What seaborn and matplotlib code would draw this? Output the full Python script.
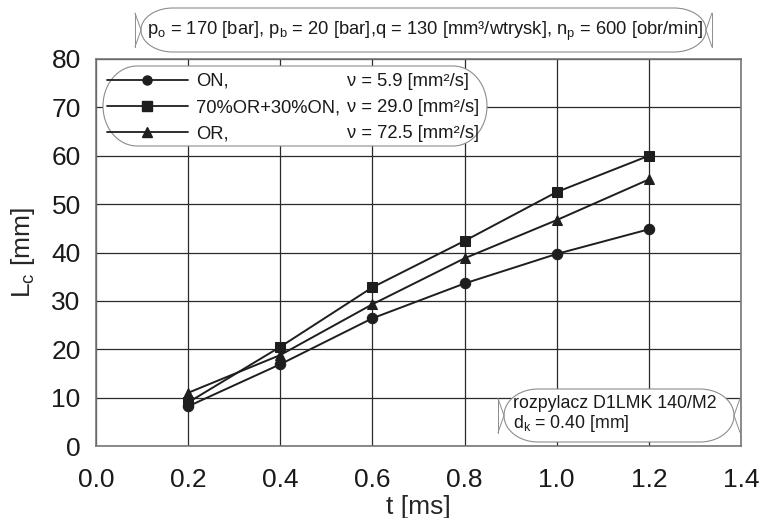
import numpy as np
import pandas as pd
import matplotlib.pyplot as plt
import seaborn as sns
from matplotlib.lines import Line2D
from matplotlib.patches import Polygon

# Data: spray tip penetration Lc [mm] vs time t [ms]
t_ms = [0.2, 0.4, 0.6, 0.8, 1.0, 1.2]
lc_on = [8.2, 16.9, 26.4, 33.6, 39.7, 44.8]
lc_mix = [9.0, 20.5, 32.8, 42.4, 52.5, 60.0]
lc_or = [11.0, 18.8, 29.3, 38.8, 46.7, 55.1]

fuels = ["ON,", "70%OR+30%ON,", "OR,"]
viscosity = ["5.9", "29.0", "72.5"]
x_ticks = [0.0, 0.2, 0.4, 0.6, 0.8, 1.0, 1.2, 1.4]
y_ticks = [0, 10, 20, 30, 40, 50, 60, 70, 80]

# long format for seaborn
df = pd.DataFrame({
    "t": t_ms * 3,
    "Lc": lc_on + lc_mix + lc_or,
    "fuel": [f for f in fuels for _ in t_ms],
})

sns.set_style("white")
plt.rcParams["font.family"] = ["Liberation Sans", "DejaVu Sans"]
plt.rcParams["mathtext.fontset"] = "custom"
plt.rcParams["mathtext.rm"] = "Liberation Sans"
plt.rcParams["mathtext.it"] = "Liberation Sans:italic"

W, H = 767, 518
fig = plt.figure(figsize=(W / 100, H / 100), dpi=100)
ax = fig.add_axes([96 / W, 1 - 446 / H, 645 / W, 387 / H])

ink = "#1e1e1e"
txt = "#1a1a1a"
edge = "#8c8c8c"
markers = {"ON,": "o", "70%OR+30%ON,": "s", "OR,": "^"}
for fuel in fuels:
    sns.lineplot(
        data=df[df["fuel"] == fuel], x="t", y="Lc", ax=ax,
        color=ink, marker=markers[fuel], markersize=7.5,
        markeredgecolor=ink, linewidth=1.4, legend=False,
    )

ax.set_xlim(0, 1.4)
ax.set_ylim(0, 80)
ax.set_xticks(x_ticks)
ax.set_yticks(y_ticks)
ax.set_xticklabels(["%.1f" % v for v in x_ticks])
ax.tick_params(axis="both", length=0, labelsize=19, colors=txt)
ax.tick_params(axis="x", pad=16)
ax.tick_params(axis="y", pad=11)
ax.grid(True, color="#2a2a2a", linewidth=0.9)
for s in ax.spines.values():
    s.set_color("#777777")
    s.set_linewidth(1.2)

ax.set_xlabel("t [ms]", fontsize=19, labelpad=2)
ax.set_ylabel("L$_\\mathrm{c}$ [mm]", fontsize=19, labelpad=10)


def px(x, y):
    # pixel (top-left origin) -> figure fraction
    return x / W, 1 - y / H


def stadium(x0, y0, x1, y1, rx, brackets=False, z=4):
    # box with elliptical ends, given in pixels
    ym = (y0 + y1) / 2
    ry = (y1 - y0) / 2
    th = np.linspace(-np.pi / 2, np.pi / 2, 40)
    right = [px(x1 - rx + rx * np.cos(a), ym - ry * np.sin(a)) for a in th[::-1]]
    left = [px(x0 + rx - rx * np.cos(a), ym + ry * np.sin(a)) for a in th[::-1]]
    poly = Polygon(right + left, closed=True, transform=fig.transFigure,
                   fc="white", ec=edge, lw=0.8, zorder=z, clip_on=False)
    ax.add_patch(poly)
    if brackets:
        for xe, d in ((x0, -6), (x1, 6)):
            pts = [px(xe + d, ym - 17), px(xe, ym), px(xe + d, ym + 17)]
            ax.add_line(Line2D([p[0] for p in pts], [p[1] for p in pts],
                               transform=fig.transFigure, color=edge, lw=0.7,
                               zorder=z, clip_on=False))
            pts = [px(xe + d, ym - 17), px(xe + d, ym + 17)]
            ax.add_line(Line2D([p[0] for p in pts], [p[1] for p in pts],
                               transform=fig.transFigure, color=edge, lw=0.7,
                               zorder=z, clip_on=False))


# legend box
stadium(103, 66, 487, 146, 34)
handles = [Line2D([], [], color=ink, marker=markers[f], markersize=6.5, linewidth=1.3) for f in fuels]
leg = ax.legend(
    handles, fuels, loc="upper left",
    bbox_to_anchor=((107 - 96) / 645, (446 - 73) / 387), fontsize=13.2,
    handlelength=4.4, handletextpad=0.45, labelspacing=0.5,
    frameon=False, borderpad=0, borderaxespad=0,
)
leg.set_zorder(5)
for t in leg.get_texts():
    t.set_color(txt)

fig.canvas.draw()
for t, v in zip(leg.get_texts(), viscosity):
    bb = t.get_window_extent()
    ax.text(347 / W, bb.y0 / H, "\u03bd = %s [mm\u00b2/s]" % v, fontsize=13.2,
            color=txt, ha="left", va="bottom", zorder=6, transform=fig.transFigure)

# parameter box above the plot
stadium(141, 8, 706, 52, 32, brackets=True)
ax.text(
    425 / W, 1 - 31 / H,
    "p$_\\mathrm{o}$ = 170 [bar], p$_\\mathrm{b}$ = 20 [bar],q = 130 [mm\u00b3/wtrysk], n$_\\mathrm{p}$ = 600 [obr/min]",
    ha="center", va="center", fontsize=13.2, color=txt, zorder=6,
    transform=fig.transFigure, clip_on=False,
)

# nozzle box in lower right
stadium(504, 389, 734, 442, 34, brackets=True)
ax.text(513 / W, 1 - 403 / H, "rozpylacz D1LMK 140/M2", ha="left", va="center",
        fontsize=12.8, color=txt, zorder=6, transform=fig.transFigure)
ax.text(513 / W, 1 - 423 / H, "d$_\\mathrm{k}$ = 0.40 [mm]", ha="left", va="center",
        fontsize=12.8, color=txt, zorder=6, transform=fig.transFigure)

plt.savefig("out.png", dpi=100)
